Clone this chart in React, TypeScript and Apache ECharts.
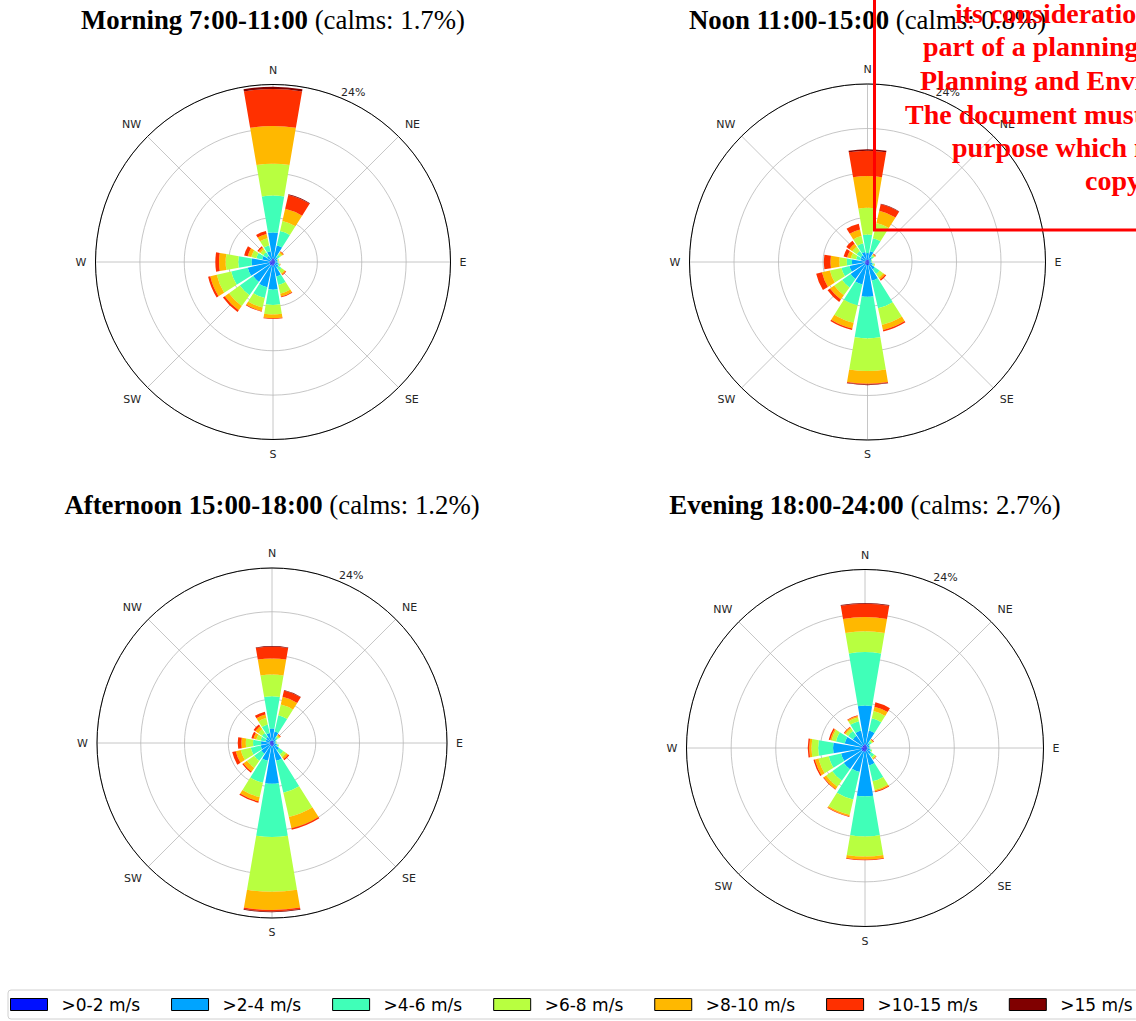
import React, { useEffect, useRef } from 'react';
import * as echarts from 'echarts';

// ---------------- data ----------------
const DIRECTIONS = ['N', 'NNE', 'NE', 'ENE', 'E', 'ESE', 'SE', 'SSE', 'S', 'SSW', 'SW', 'WSW', 'W', 'WNW', 'NW', 'NNW'];
const SPEED_BINS = ['>0-2 m/s', '>2-4 m/s', '>4-6 m/s', '>6-8 m/s', '>8-10 m/s', '>10-15 m/s', '>15 m/s'];
const COMPASS_LABELS: Record<number, string> = { 0: 'N', 45: 'NE', 90: 'E', 135: 'SE', 180: 'S', 225: 'SW', 270: 'W', 315: 'NW' };
const RADIUS_MAX = 24;
const RADIUS_STEP = 6;
const RADIUS_LABEL = '24%';
const PERIOD_NAMES = ['Morning 7:00-11:00', 'Noon 11:00-15:00', 'Afternoon 15:00-18:00', 'Evening 18:00-24:00'];
const CALMS = [1.7, 0.8, 1.2, 2.7];

// frequency (%) per direction, per speed bin [>0-2, >2-4, >4-6, >6-8, >8-10, >10-15, >15]
const MORNING = [
  [0.5, 3.5, 5.0, 4.3, 5.1, 5.0, 0.3],
  [0.4, 1.9, 2.0, 1.4, 1.7, 1.9, 0.1],
  [0.3, 0.5, 0.4, 0.3, 0.2, 0.1, 0],
  [0.3, 0.3, 0.1, 0.1, 0.05, 0, 0],
  [0.3, 0.3, 0.1, 0.05, 0, 0, 0],
  [0.3, 0.4, 0.2, 0.1, 0.05, 0.02, 0],
  [0.3, 0.6, 0.5, 0.5, 0.2, 0.1, 0],
  [0.4, 1.6, 1.2, 1.2, 0.4, 0.1, 0],
  [0.5, 3.25, 2.05, 1.3, 0.5, 0.1, 0],
  [0.5, 3.0, 1.5, 1.3, 0.5, 0.1, 0],
  [0.5, 2.8, 2.2, 1.8, 0.7, 0.3, 0],
  [0.5, 3.0, 2.3, 2.0, 0.9, 0.3, 0],
  [0.5, 2.4, 1.8, 1.7, 0.9, 0.5, 0],
  [0.4, 1.1, 0.8, 0.7, 0.5, 0.5, 0],
  [0.3, 0.7, 0.6, 0.5, 0.3, 0.2, 0],
  [0.4, 1.1, 0.8, 1.0, 0.6, 0.4, 0],
];
const NOON = [
  [0.3, 0.9, 2.5, 3.6, 4.3, 3.4, 0.2],
  [0.3, 1.2, 1.8, 2.1, 1.7, 0.9, 0.05],
  [0.3, 0.4, 0.3, 0.2, 0.1, 0.1, 0],
  [0.2, 0.3, 0.1, 0.05, 0, 0, 0],
  [0.2, 0.3, 0.1, 0.05, 0, 0, 0],
  [0.3, 0.4, 0.2, 0.1, 0.05, 0, 0],
  [0.3, 0.9, 0.8, 0.6, 0.3, 0.2, 0],
  [0.4, 2.2, 3.8, 2.3, 0.7, 0.2, 0],
  [0.4, 4.3, 5.6, 4.4, 1.7, 0.1, 0.1],
  [0.4, 2.7, 2.9, 2.4, 0.8, 0.2, 0],
  [0.4, 2.4, 1.4, 1.3, 0.7, 0.4, 0],
  [0.4, 2.1, 1.1, 1.6, 1.1, 0.8, 0],
  [0.3, 1.8, 0.7, 1.0, 1.2, 0.9, 0],
  [0.3, 0.7, 0.6, 0.7, 0.5, 0.5, 0],
  [0.3, 0.8, 0.7, 0.7, 0.5, 0.5, 0],
  [0.3, 1.1, 1.2, 1.0, 0.9, 0.8, 0],
];
const AFTERNOON = [
  [0.3, 1.7, 4.4, 3.0, 2.2, 1.6, 0.1],
  [0.3, 1.3, 2.3, 1.5, 1.1, 0.9, 0.05],
  [0.3, 0.4, 0.3, 0.2, 0.2, 0.1, 0],
  [0.2, 0.3, 0.1, 0.05, 0, 0, 0],
  [0.2, 0.3, 0.1, 0.05, 0, 0, 0],
  [0.3, 0.4, 0.2, 0.1, 0, 0, 0],
  [0.3, 0.9, 0.7, 0.5, 0.3, 0.2, 0],
  [0.4, 2.1, 4.5, 3.4, 1.6, 0.2, 0],
  [0.4, 5.2, 7.3, 7.5, 2.5, 0.2, 0.1],
  [0.4, 2.1, 3.1, 2.0, 0.6, 0.2, 0],
  [0.3, 1.5, 1.2, 1.2, 0.6, 0.2, 0],
  [0.3, 1.3, 1.4, 1.4, 0.7, 0.5, 0],
  [0.3, 1.2, 1.1, 1.0, 0.6, 0.5, 0],
  [0.3, 0.6, 0.7, 0.6, 0.4, 0.3, 0],
  [0.3, 0.7, 0.7, 0.6, 0.5, 0.3, 0],
  [0.3, 1.1, 1.2, 0.9, 0.5, 0.4, 0],
];
const EVENING = [
  [0.5, 5.2, 7.2, 2.8, 1.9, 1.8, 0.1],
  [0.4, 2.0, 1.7, 1.0, 0.6, 0.6, 0],
  [0.3, 0.5, 0.3, 0.2, 0.1, 0.1, 0],
  [0.3, 0.3, 0.1, 0.05, 0, 0, 0],
  [0.3, 0.3, 0.1, 0, 0, 0, 0],
  [0.3, 0.4, 0.2, 0.1, 0, 0, 0],
  [0.3, 0.7, 0.5, 0.25, 0.1, 0.05, 0],
  [0.4, 2.0, 2.2, 1.2, 0.2, 0.1, 0],
  [0.5, 6.0, 5.4, 2.7, 0.4, 0.1, 0],
  [0.5, 2.8, 3.8, 2.1, 0.2, 0.1, 0],
  [0.5, 3.0, 1.9, 1.0, 0.4, 0.1, 0],
  [0.5, 2.8, 1.7, 1.4, 0.5, 0.2, 0],
  [0.5, 3.8, 2.0, 0.9, 0.3, 0.2, 0],
  [0.4, 2.4, 1.2, 0.6, 0.2, 0.2, 0],
  [0.4, 1.6, 0.8, 0.4, 0.2, 0.1, 0],
  [0.4, 2.0, 1.3, 0.5, 0.2, 0.1, 0],
];
const PERIOD_DATA = [MORNING, NOON, AFTERNOON, EVENING];

const STAMP_LINES = [
  'its consideration and review as',
  'part of a planning process under the',
  'Planning and Environment Act 1987.',
  'The document must not be used for any',
  'purpose which may breach any',
  'copyright',
];

// ---------------- layout / style ----------------
const BIN_COLORS = ['#0010ff', '#00a4ff', '#40ffb8', '#b8ff40', '#ffb800', '#ff3000', '#800000'];
const LAYOUT = [
  { cx: 273, cy: 262, r: 177.5, titleTop: 5 },
  { cx: 867.5, cy: 262, r: 178, titleTop: 5 },
  { cx: 272, cy: 743, r: 175, titleTop: 490 },
  { cx: 865, cy: 748, r: 178.5, titleTop: 490 },
];
const STAMP_X = [955, 923, 920, 905, 952, 1085];
const STAMP_BASE = [23, 56, 90, 124, 157, 190];

function buildOption() {
  const polar: any[] = [];
  const angleAxis: any[] = [];
  const radiusAxis: any[] = [];
  const series: any[] = [];
  const title: any[] = [];
  const graphic: any[] = [];

  LAYOUT.forEach((l, i) => {
    polar.push({ center: [l.cx, l.cy], radius: [0, l.r] });
    polar.push({ center: [l.cx, l.cy], radius: [0, l.r] });
    // grid polar
    angleAxis.push({
      polarIndex: 2 * i,
      type: 'value',
      min: 0,
      max: 360,
      interval: 45,
      startAngle: 90,
      clockwise: true,
      axisLine: { show: true, lineStyle: { color: '#000', width: 1 } },
      axisTick: { show: false },
      splitLine: { show: true, lineStyle: { color: '#b8b8b8', width: 0.8 } },
      axisLabel: {
        formatter: (v: number) => (v >= 360 ? '' : COMPASS_LABELS[v] || ''),
        margin: 9,
        fontSize: 11,
        color: '#262626',
        fontFamily: 'DejaVu Sans',
      },
      z: 1,
    });
    radiusAxis.push({
      polarIndex: 2 * i,
      type: 'value',
      min: 0,
      max: RADIUS_MAX,
      interval: RADIUS_STEP,
      axisLine: { show: false },
      axisTick: { show: false },
      axisLabel: { show: false },
      splitLine: { show: true, lineStyle: { color: '#b8b8b8', width: 0.8 } },
      z: 1,
    });
    // bar polar
    angleAxis.push({
      polarIndex: 2 * i + 1,
      type: 'category',
      data: DIRECTIONS,
      startAngle: 90 + 360 / DIRECTIONS.length / 2,
      clockwise: true,
      axisLine: { show: false },
      axisTick: { show: false },
      axisLabel: { show: false },
      splitLine: { show: false },
    });
    radiusAxis.push({
      polarIndex: 2 * i + 1,
      type: 'value',
      min: 0,
      max: RADIUS_MAX,
      axisLine: { show: false },
      axisTick: { show: false },
      axisLabel: { show: false },
      splitLine: { show: false },
    });
    SPEED_BINS.forEach((bin, b) => {
      series.push({
        type: 'bar',
        name: bin,
        coordinateSystem: 'polar',
        polarIndex: 2 * i + 1,
        stack: 'rose' + i,
        data: PERIOD_DATA[i].map((row) => row[b]),
        itemStyle: { color: BIN_COLORS[b] },
        barCategoryGap: '14%',
        silent: true,
        z: 3,
      });
    });
    title.push({
      text: `{b|${PERIOD_NAMES[i]}}{n| (calms: ${CALMS[i].toFixed(1)}%)}`,
      left: l.cx,
      top: l.titleTop,
      textAlign: 'center',
      padding: 0,
      textStyle: {
        rich: {
          b: { fontFamily: 'Liberation Serif', fontWeight: 'bold', fontSize: 26.8, color: '#000', lineHeight: 30 },
          n: { fontFamily: 'Liberation Serif', fontWeight: 'normal', fontSize: 26.8, color: '#000', lineHeight: 30 },
        },
      },
    });
    const a = (22.5 * Math.PI) / 180;
    graphic.push({
      type: 'text',
      x: l.cx + l.r * Math.sin(a),
      y: l.cy - l.r * Math.cos(a),
      z: 5,
      style: { text: RADIUS_LABEL, fontSize: 11, fontFamily: 'DejaVu Sans', fill: '#262626', align: 'left', verticalAlign: 'bottom' },
    });
  });

  // stamp overlay
  graphic.push({
    type: 'rect',
    z: 100,
    shape: { x: 874.5, y: -10, width: 400, height: 240 },
    style: { fill: 'none', stroke: '#ff0000', lineWidth: 3 },
  });
  STAMP_LINES.forEach((t, k) => {
    graphic.push({
      type: 'text',
      z: 101,
      x: STAMP_X[k],
      y: STAMP_BASE[k] - 10,
      style: {
        text: t,
        fontFamily: 'Liberation Serif',
        fontWeight: 'bold',
        fontSize: 28,
        fill: '#ff0000',
        align: 'left',
        verticalAlign: 'middle',
      },
    });
  });

  return {
    animation: false,
    backgroundColor: '#fff',
    title,
    polar,
    angleAxis,
    radiusAxis,
    series,
    graphic,
    legend: {
      data: SPEED_BINS,
      left: 8,
      top: 990,
      width: 1300,
      orient: 'horizontal',
      icon: 'rect',
      itemWidth: 37,
      itemHeight: 12,
      itemGap: 31,
      padding: [6, 6, 6, 2],
      borderColor: '#d0d0d0',
      borderWidth: 1,
      borderRadius: 3,
      selectedMode: false,
      itemStyle: { borderColor: '#000', borderWidth: 1 },
      textStyle: { fontSize: 17, fontFamily: 'DejaVu Sans', color: '#000', padding: [0, 0, 0, 9] },
    },
  };
}

export default function App() {
  const ref = useRef<HTMLDivElement>(null);
  useEffect(() => {
    document.body.style.margin = '0';
    if (!ref.current) return;
    const chart = echarts.init(ref.current, null, { renderer: 'svg' });
    chart.setOption(buildOption() as any);
    return () => chart.dispose();
  }, []);
  return <div ref={ref} style={{ width: 1136, height: 1021 }} />;
}
